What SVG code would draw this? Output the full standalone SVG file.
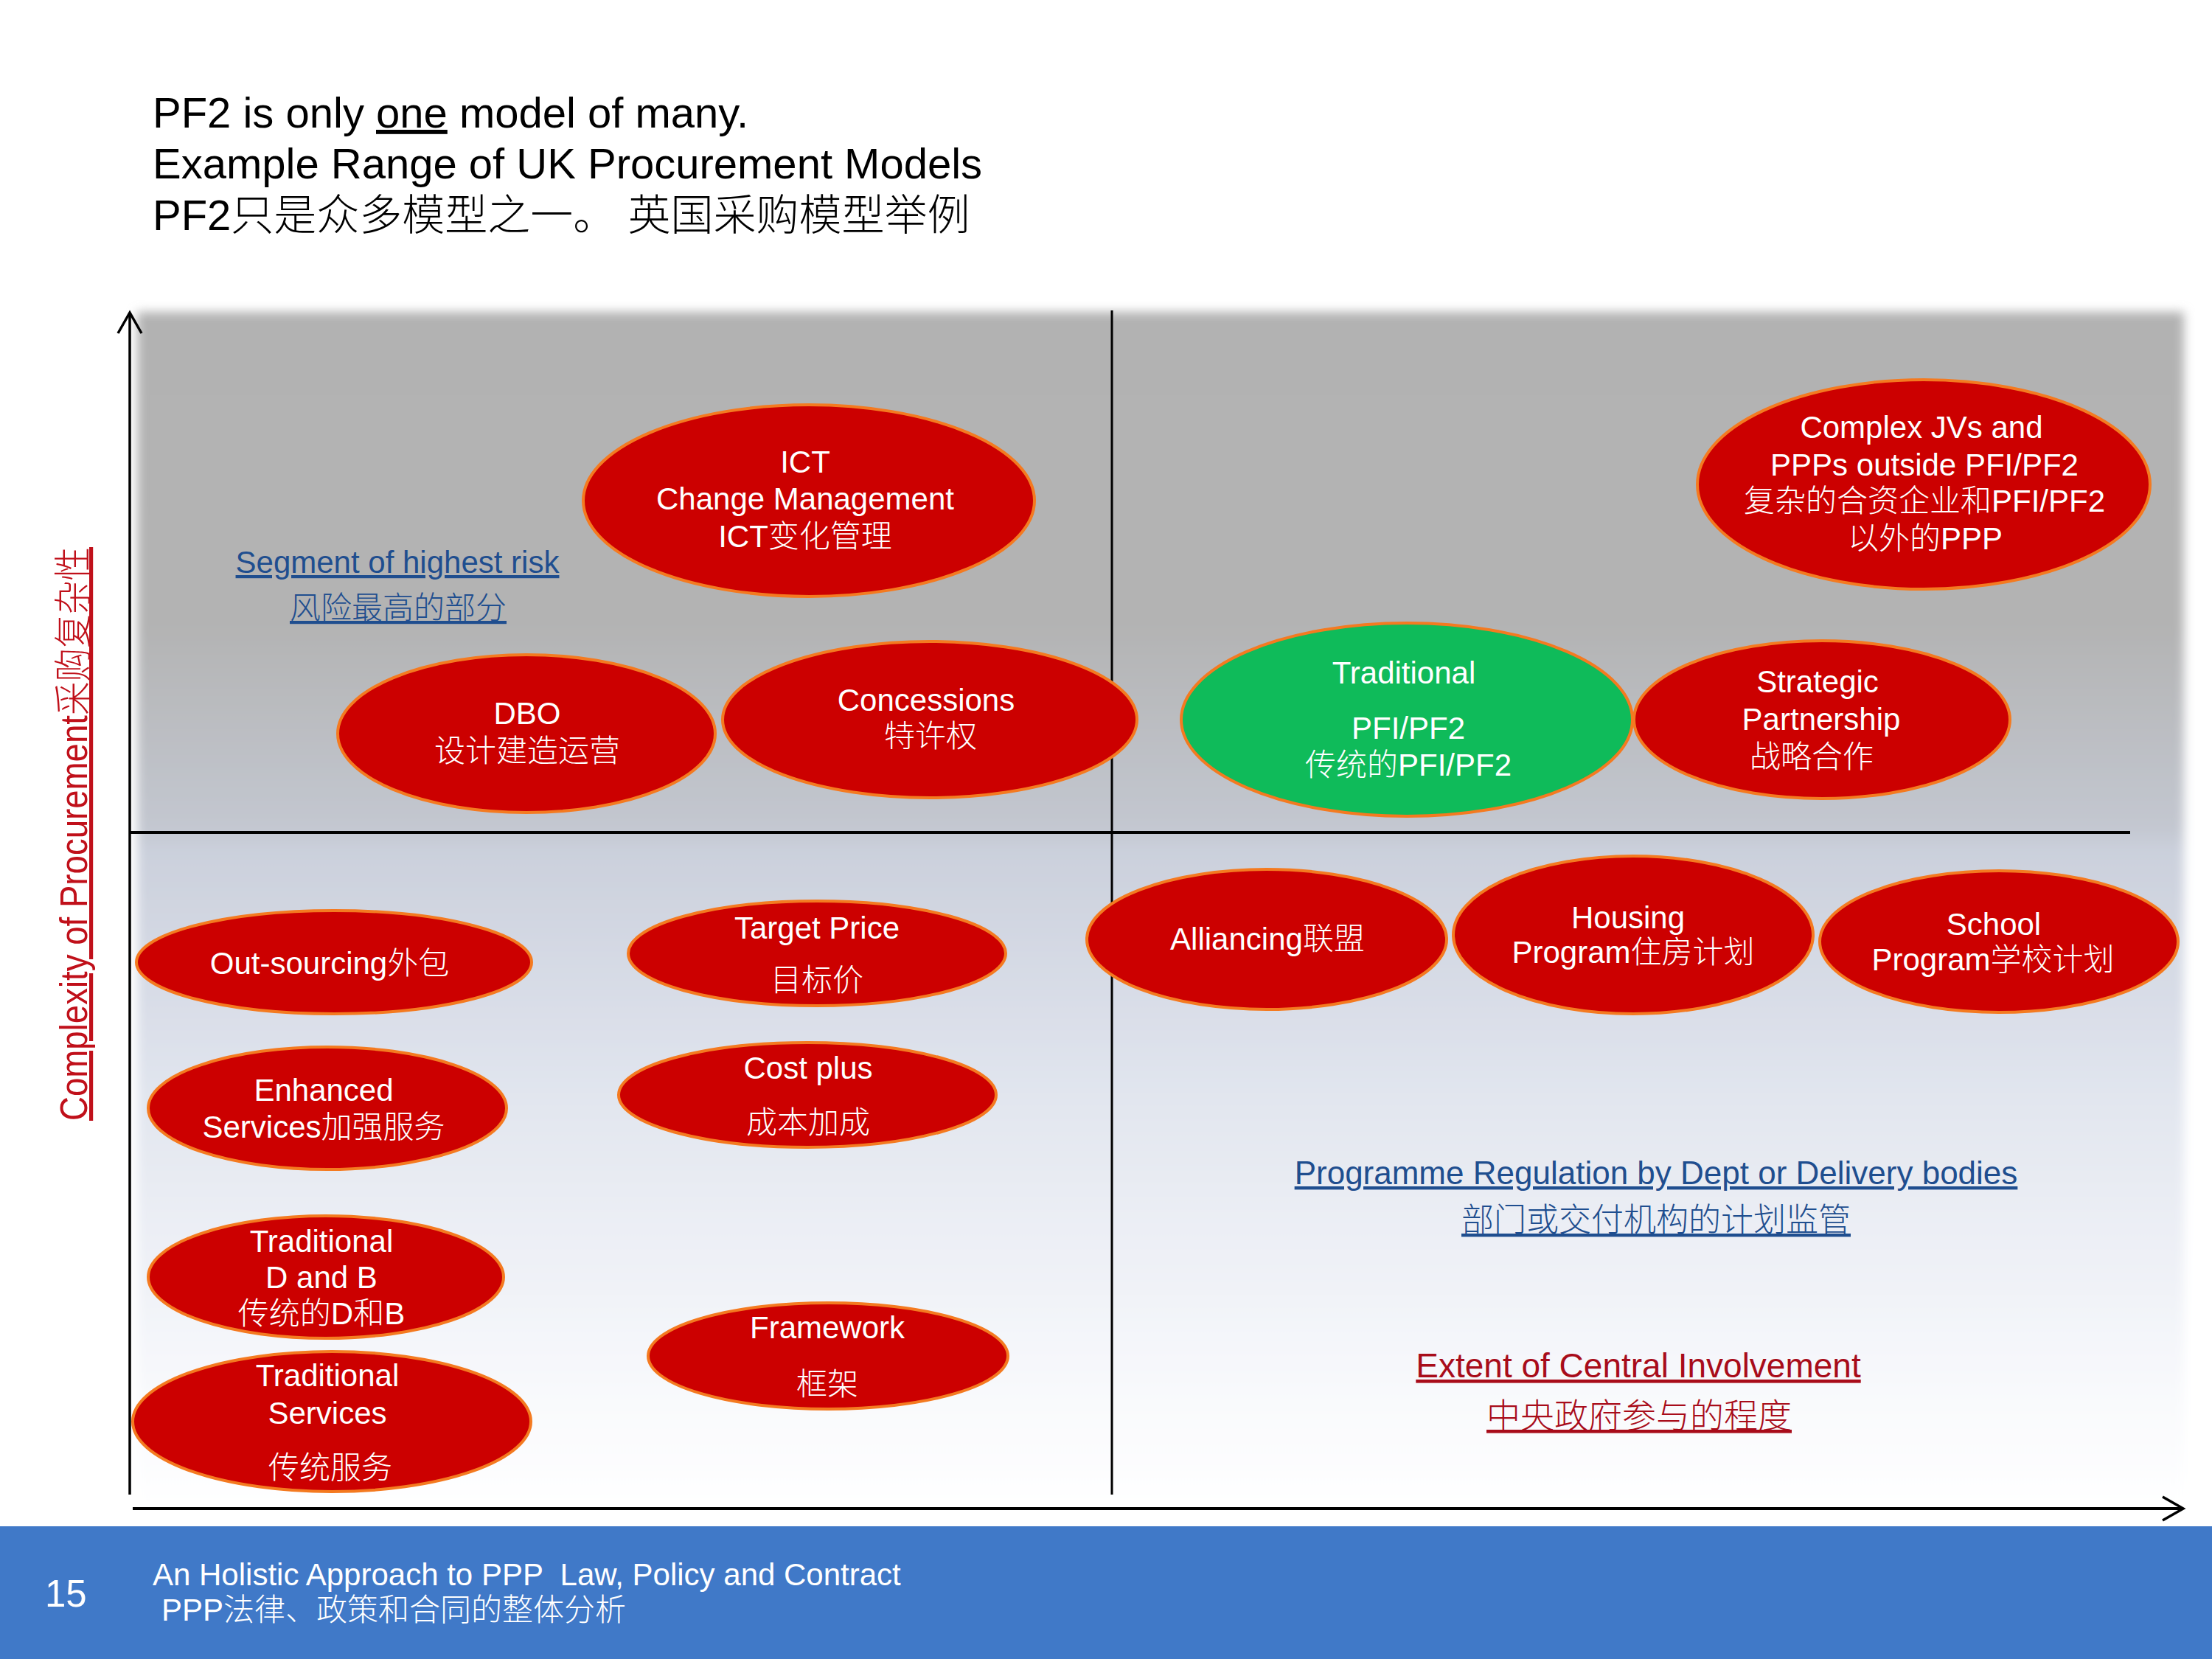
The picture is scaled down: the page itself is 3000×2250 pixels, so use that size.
<svg xmlns="http://www.w3.org/2000/svg" width="3000" height="2250" viewBox="0 0 3000 2250">
<defs>
  <linearGradient id="bg" x1="0" y1="0" x2="0" y2="1">
    <stop offset="0" stop-color="#b2b2b2"/>
    <stop offset="0.26" stop-color="#b3b3b3"/>
    <stop offset="0.43" stop-color="#c3c7d0"/>
    <stop offset="0.45" stop-color="#cbd0dc"/>
    <stop offset="0.66" stop-color="#e2e6ef"/>
    <stop offset="0.9" stop-color="#f8f9fc"/>
    <stop offset="1" stop-color="#ffffff"/>
  </linearGradient>
  <filter id="soft" x="-2%" y="-3%" width="104%" height="106%">
    <feGaussianBlur stdDeviation="7"/>
  </filter>
  <marker id="arr" markerUnits="userSpaceOnUse" viewBox="-4 -20 36 40" markerWidth="36" markerHeight="40" refX="28" refY="0" orient="auto">
    <path d="M0,-16 L28,0 L0,16" fill="none" stroke="#000" stroke-width="3.5" stroke-linejoin="miter"/>
  </marker>
</defs>
<style>
  text { font-family: "Liberation Sans", "Noto Sans CJK SC", sans-serif; font-weight: 300; }
  .title { font-size: 58px; fill: #000; }
  .node ellipse { fill: #cc0000; stroke: #f47a20; stroke-width: 4; }
  .node.green ellipse { fill: #0fbb5a; }
  .node text { fill: #ffffff; font-size: 42px; text-anchor: middle; }
  .lbl { text-anchor: middle; text-decoration: underline; }
  .blue { fill: #1f4e8f; }
  .red { fill: #a80c1a; }
  .axis { stroke: #000; fill: none; }
  .foot { fill: #ffffff; font-size: 42px; }
  .pageno { fill: #ffffff; font-size: 51px; }
</style>

<rect x="0" y="0" width="3000" height="2250" fill="#ffffff"/>

<!-- title -->
<g id="title">
  <text class="title" x="207" y="173">PF2 is only <tspan text-decoration="underline">one</tspan> model of many.</text>
  <text class="title" x="207" y="242">Example Range of UK Procurement Models</text>
  <text class="title" x="207" y="312">PF2只是众多模型之一。 英国采购模型举例</text>
</g>

<!-- chart background -->
<rect id="chart-bg" x="186" y="423" width="2776" height="1625" fill="url(#bg)" filter="url(#soft)"/>

<!-- axes and quadrant lines -->
<g id="axes">
  <path class="axis" d="M176,2027 L176,424" stroke-width="3.5" marker-end="url(#arr)"/>
  <path class="axis" d="M180,2046 L2961,2046" stroke-width="4" marker-end="url(#arr)"/>
  <path class="axis" d="M1508,421 L1508,2027" stroke-width="3"/>
  <path class="axis" d="M176,1129 L2889,1129" stroke-width="4"/>
</g>

<!-- y axis label -->
<text id="y-label" transform="translate(118,1520) rotate(-90)" x="0" y="0" font-size="52" fill="#c0101a" text-decoration="underline" textLength="778" lengthAdjust="spacingAndGlyphs">Complexity of Procurement采购复杂性</text>

<!-- nodes -->
<g id="node-ict" class="node">
  <ellipse cx="1097" cy="679" rx="306" ry="130"/>
  <text x="1092" y="641">ICT</text>
  <text x="1092" y="691">Change Management</text>
  <text x="1092" y="742">ICT变化管理</text>
</g>
<g id="node-complex" class="node">
  <ellipse cx="2609" cy="657" rx="307" ry="142"/>
  <text x="2606" y="594">Complex JVs and</text>
  <text x="2610" y="645">PPPs outside PFI/PF2</text>
  <text x="2610" y="694">复杂的合资企业和PFI/PF2</text>
  <text x="2611" y="745">以外的PPP</text>
</g>
<g id="node-dbo" class="node">
  <ellipse cx="714" cy="995" rx="256" ry="107"/>
  <text x="715" y="982">DBO</text>
  <text x="715" y="1033">设计建造运营</text>
</g>
<g id="node-concessions" class="node">
  <ellipse cx="1261" cy="976" rx="281" ry="106"/>
  <text x="1256" y="964">Concessions</text>
  <text x="1262" y="1013">特许权</text>
</g>
<g id="node-traditional-pfi" class="node green">
  <ellipse cx="1908" cy="976" rx="306" ry="131"/>
  <text x="1904" y="927">Traditional</text>
  <text x="1910" y="1002">PFI/PF2</text>
  <text x="1910" y="1052">传统的PFI/PF2</text>
</g>
<g id="node-strategic" class="node">
  <ellipse cx="2471" cy="976" rx="255" ry="107"/>
  <text x="2465" y="939">Strategic</text>
  <text x="2470" y="990">Partnership</text>
  <text x="2457" y="1041">战略合作</text>
</g>
<g id="node-outsourcing" class="node">
  <ellipse cx="453" cy="1305" rx="268" ry="70"/>
  <text x="447" y="1321">Out-sourcing外包</text>
</g>
<g id="node-target-price" class="node">
  <ellipse cx="1108" cy="1293" rx="256" ry="71"/>
  <text x="1108" y="1273">Target Price</text>
  <text x="1108" y="1344">目标价</text>
</g>
<g id="node-alliancing" class="node">
  <ellipse cx="1718" cy="1274" rx="244" ry="95"/>
  <text x="1719" y="1288">Alliancing联盟</text>
</g>
<g id="node-housing" class="node">
  <ellipse cx="2215" cy="1268" rx="244" ry="107"/>
  <text x="2208" y="1259">Housing</text>
  <text x="2215" y="1306">Program住房计划</text>
</g>
<g id="node-school" class="node">
  <ellipse cx="2711" cy="1277" rx="243" ry="96"/>
  <text x="2704" y="1268">School</text>
  <text x="2703" y="1316">Program学校计划</text>
</g>
<g id="node-enhanced" class="node">
  <ellipse cx="444" cy="1503" rx="243" ry="83"/>
  <text x="439" y="1493">Enhanced</text>
  <text x="439" y="1543">Services加强服务</text>
</g>
<g id="node-cost-plus" class="node">
  <ellipse cx="1095" cy="1485" rx="256" ry="71"/>
  <text x="1096" y="1463">Cost plus</text>
  <text x="1096" y="1537">成本加成</text>
</g>
<g id="node-traditional-db" class="node">
  <ellipse cx="442" cy="1732" rx="241" ry="83"/>
  <text x="436" y="1698">Traditional</text>
  <text x="436" y="1747">D and B</text>
  <text x="436" y="1796">传统的D和B</text>
</g>
<g id="node-traditional-services" class="node">
  <ellipse cx="450" cy="1928" rx="270" ry="95"/>
  <text x="444" y="1880">Traditional</text>
  <text x="444" y="1931">Services</text>
  <text x="448" y="2005">传统服务</text>
</g>
<g id="node-framework" class="node">
  <ellipse cx="1123" cy="1839" rx="244" ry="72"/>
  <text x="1122" y="1815">Framework</text>
  <text x="1122" y="1892">框架</text>
</g>

<!-- region labels -->
<g id="label-segment">
  <text class="lbl blue" x="539" y="777" font-size="42">Segment of highest risk</text>
  <text class="lbl blue" x="540" y="839" font-size="42">风险最高的部分</text>
</g>
<g id="label-programme">
  <text class="lbl blue" x="2246" y="1606" font-size="44">Programme Regulation by Dept or Delivery bodies</text>
  <text class="lbl blue" x="2246" y="1670" font-size="44">部门或交付机构的计划监管</text>
</g>
<g id="label-extent">
  <text class="lbl red" x="2222" y="1868" font-size="46">Extent of Central Involvement</text>
  <text class="lbl red" x="2223" y="1936" font-size="46">中央政府参与的程度</text>
</g>

<!-- footer -->
<g id="footer">
  <rect x="0" y="2070" width="3000" height="180" fill="#4079c8"/>
  <text class="pageno" x="61" y="2179">15</text>
  <text class="foot" x="207" y="2150" xml:space="preserve">An Holistic Approach to PPP  Law, Policy and Contract</text>
  <text class="foot" x="219" y="2198">PPP法律、政策和合同的整体分析</text>
</g>
</svg>
